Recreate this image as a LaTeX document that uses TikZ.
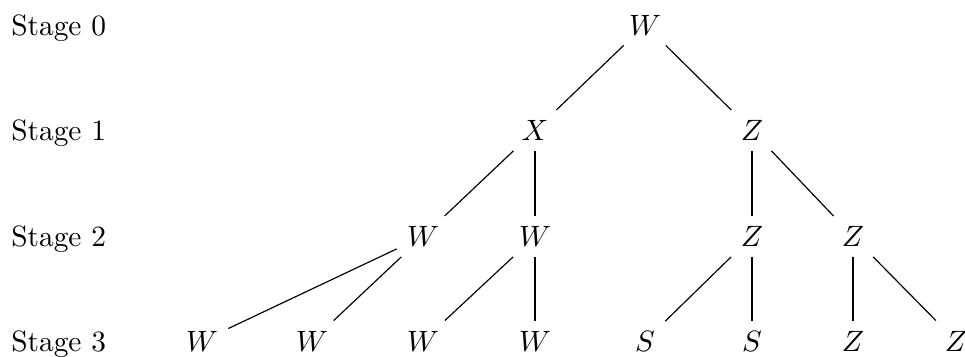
\documentclass[tikz,border=0pt]{standalone}
\begin{document}
\begin{tikzpicture}[x=0.34pt,y=-0.34pt,
  v/.style={anchor=base},
  lab/.style={anchor=base west,inner sep=0pt},
  conn/.style={draw,line width=0.4pt}]
\useasboundingbox (0,0) rectangle (965,356);
% stage labels
\node[lab] (s0) at (10.7,35) {Stage 0};
\node[lab] (s1) at (10.7,140.5) {Stage 1};
\node[lab] (s2) at (10.7,246.5) {Stage 2};
\node[lab] (s3) at (10.7,351) {Stage 3};
% tree nodes
\node[v] (a) at (645,35) {$W$};
\node[v] (b1) at (535,140.5) {$X$};
\node[v] (b2) at (752,140.5) {$Z$};
\node[v] (c1) at (423,246.5) {$W$};
\node[v] (c2) at (535,246.5) {$W$};
\node[v] (c3) at (752,246.5) {$Z$};
\node[v] (c4) at (853,246.5) {$Z$};
\node[v] (d1) at (202,351) {$W$};
\node[v] (d2) at (312,351) {$W$};
\node[v] (d3) at (423,351) {$W$};
\node[v] (d4) at (535,351) {$W$};
\node[v] (d5) at (645,351) {$S$};
\node[v] (d6) at (752,351) {$S$};
\node[v] (d7) at (853,351) {$Z$};
\node[v] (d8) at (956,351) {$Z$};
% connectors
\path[conn] (a) -- (b1);
\path[conn] (a) -- (b2);
\path[conn] (b1) -- (c1);
\path[conn] (b1) -- (c2);
\path[conn] (b2) -- (c3);
\path[conn] (b2) -- (c4);
\path[conn] (c1) -- (d1);
\path[conn] (c1) -- (d2);
\path[conn] (c2) -- (d3);
\path[conn] (c2) -- (d4);
\path[conn] (c3) -- (d5);
\path[conn] (c3) -- (d6);
\path[conn] (c4) -- (d7);
\path[conn] (c4) -- (d8);
\end{tikzpicture}
\end{document}
